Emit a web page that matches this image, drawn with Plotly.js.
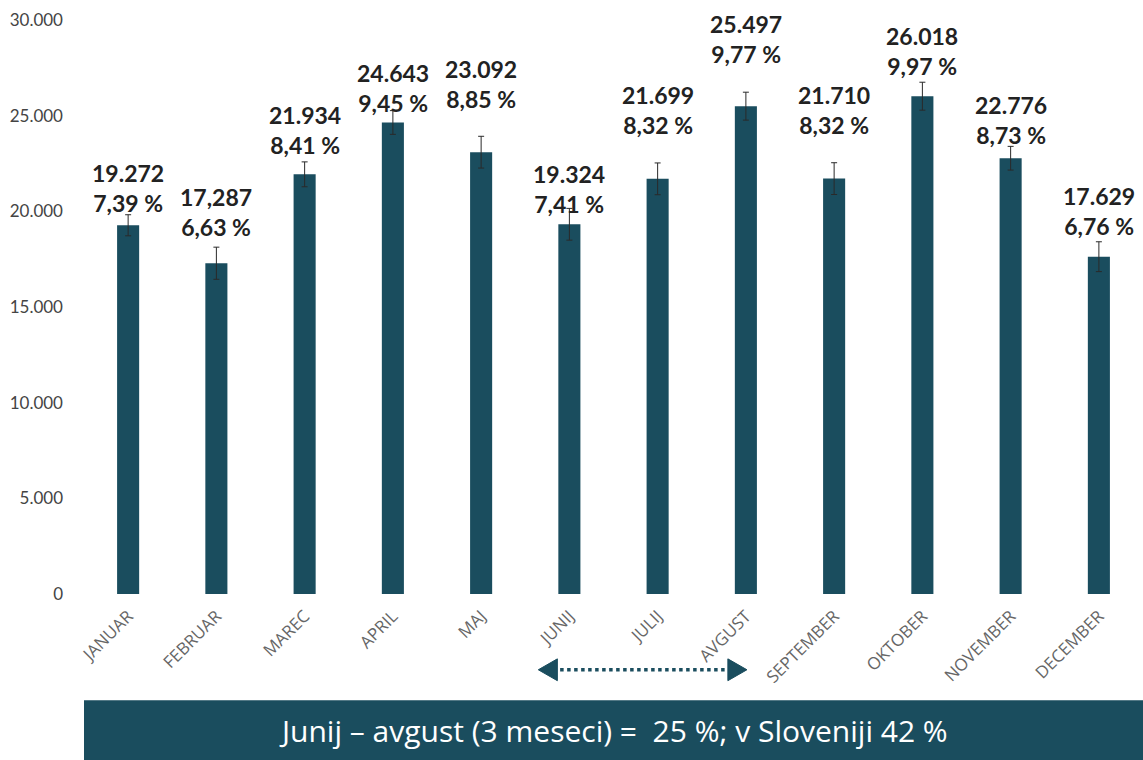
<!DOCTYPE html>
<html><head><meta charset="utf-8">
<script src="https://cdn.plot.ly/plotly-3.0.1.min.js"></script>
<style>html,body{margin:0;padding:0;background:#fff}#chart{width:1143px;height:760px}</style>
</head><body><div id="chart"></div>
<script>
const months = ['JANUAR','FEBRUAR','MAREC','APRIL','MAJ','JUNIJ','JULIJ','AVGUST','SEPTEMBER','OKTOBER','NOVEMBER','DECEMBER'];
const values = [19272,17287,21934,24643,23092,19324,21699,25497,21710,26018,22776,17629];
const valueLabels = ['19.272','17,287','21.934','24.643','23.092','19.324','21.699','25.497','21.710','26.018','22.776','17.629'];
const shareLabels = ['7,39 %','6,63 %','8,41 %','9,45 %','8,85 %','7,41 %','8,32 %','9,77 %','8,32 %','9,97 %','8,73 %','6,76 %'];
const errors = [550,840,650,620,830,830,830,730,830,730,620,780];
const labelGap = [6,20,13,4,37,4,38,36,38,14,7,15];
const bannerText = 'Junij – avgust (3 meseci) =  25 %; v Sloveniji 42 %';

const teal = '#1a4d5e';
const trace = {
  type:'bar', x: months, y: values,
  marker:{color: teal},
  error_y:{type:'data', array: errors, visible:true, color:'#2a2a2a', thickness:1, width:3},
  hoverinfo:'x+y'
};
const annotations = months.map((m,i)=>({
  x:m, y:values[i], xref:'x', yref:'y', yanchor:'bottom', yshift:labelGap[i],
  text: valueLabels[i] + '<br>' + shareLabels[i], showarrow:false,
  font:{family:'Lato, sans-serif', size:23, color:'#222', weight:700}
}));
annotations.push({
  xref:'paper', yref:'paper', x:0.5, y:-0.237, xanchor:'center', yanchor:'middle',
  text: bannerText, showarrow:false,
  font:{family:'"Open Sans", sans-serif', size:30, color:'#ffffff'}
});
const x0 = 0.429, x1 = 0.626, ya = -0.132;
const shapes = [
  {type:'rect', xref:'paper', yref:'paper', x0:0, x1:1.0, y0:-0.289, y1:-0.185, fillcolor:teal, line:{width:0}, layer:'below'},
  {type:'line', xref:'paper', yref:'paper', x0:x0+0.014, x1:x1-0.014, y0:ya, y1:ya, line:{color:teal, width:3.5, dash:'dot'}},
  {type:'path', xref:'paper', yref:'paper', path:`M ${x0} ${ya} L ${x0+0.018} ${ya+0.019} L ${x0+0.018} ${ya-0.019} Z`, fillcolor:teal, line:{color:teal, width:1}},
  {type:'path', xref:'paper', yref:'paper', path:`M ${x1} ${ya} L ${x1-0.018} ${ya+0.019} L ${x1-0.018} ${ya-0.019} Z`, fillcolor:teal, line:{color:teal, width:1}}
];
const layout = {
  width:1143, height:760,
  margin:{l:84, r:0, t:20, b:166},
  paper_bgcolor:'#fff', plot_bgcolor:'#fff',
  separators:',.',
  bargap:0.75,
  showlegend:false,
  xaxis:{tickangle:-45, ticklabelstandoff:8, tickfont:{family:'"Open Sans", sans-serif', size:17, color:'#666'}, showgrid:false, showline:false, zeroline:false, ticks:''},
  yaxis:{range:[0,30000], dtick:5000, tickformat:',d', showgrid:false, zeroline:false, showline:false, ticks:'', ticklabelstandoff:20,
         tickfont:{family:'Lato, sans-serif', size:17, color:'#444'}},
  annotations: annotations,
  shapes: shapes
};
Plotly.newPlot('chart',[trace],layout,{displayModeBar:false, staticPlot:true});
</script></body></html>
